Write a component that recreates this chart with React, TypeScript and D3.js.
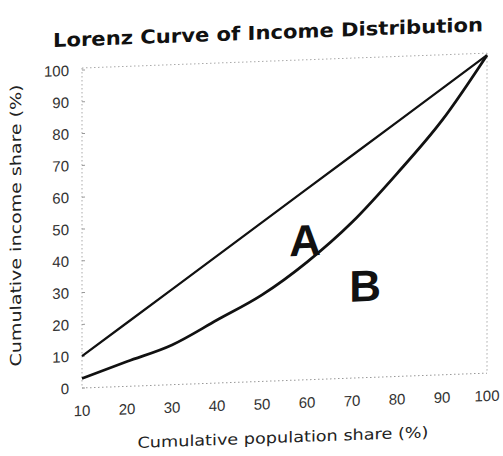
import React from "react";
import * as d3 from "d3";

const populationShare = [10, 20, 30, 40, 50, 60, 70, 80, 90, 100];
const lorenzIncome = [3, 7.8, 12.5, 19.8, 27.2, 37, 49, 63.8, 80, 100];
const equalityIncome = [10, 20, 30, 40, 50, 60, 70, 80, 90, 100];
const xTicks = [10, 20, 30, 40, 50, 60, 70, 80, 90, 100];
const yTicks = [0, 10, 20, 30, 40, 50, 60, 70, 80, 90, 100];
const areaLabels = [
  { text: "A", x: 59.6, y: 44 },
  { text: "B", x: 72.9, y: 29 },
];

const W = 503;
const H = 456;

export default function App() {
  const x = d3.scaleLinear().domain([10, 100]).range([82, 487]);
  const y = d3.scaleLinear().domain([0, 100]).range([388, 70]);

  const line = d3
    .line<[number, number]>()
    .x((d) => x(d[0]))
    .y((d) => y(d[1]));
  const curve = d3
    .line<[number, number]>()
    .x((d) => x(d[0]))
    .y((d) => y(d[1]))
    .curve(d3.curveMonotoneX);

  const lorenzPts: [number, number][] = populationShare.map((p, i) => [p, lorenzIncome[i]]);
  const eqPts: [number, number][] = populationShare.map((p, i) => [p, equalityIncome[i]]);

  const left = x(10);
  const right = x(100);
  const top = y(100) - 2;
  const bottom = y(0);
  const frameStyle = { stroke: "#aaa", strokeWidth: 1, strokeDasharray: "1.5,2.5" };

  return (
    <svg
      width={W}
      height={H}
      style={{ position: "absolute", left: 0, top: 0, background: "#fff" }}
    >
      <rect width={W} height={H} fill="#fff" />
      <g transform="translate(0,3) skewY(-2.1)">
        <text
          x={268}
          y={46}
          textAnchor="middle"
          fontFamily="'DejaVu Sans', 'Liberation Sans', sans-serif"
          fontWeight="bold"
          fontSize={19}
          textLength={430}
          lengthAdjust="spacingAndGlyphs"
          fill="#111"
        >
          Lorenz Curve of Income Distribution
        </text>

        {/* frame */}
        <line x1={left} x2={right} y1={top} y2={top} style={frameStyle} />
        <line x1={left} x2={right} y1={bottom} y2={bottom} style={{ ...frameStyle, stroke: "#999" }} />
        <line x1={left} x2={left} y1={top} y2={bottom} style={frameStyle} />
        <line x1={right} x2={right} y1={top} y2={bottom} style={frameStyle} />

        {/* y ticks */}
        {yTicks.map((t) => (
          <g key={"y" + t}>
            <line x1={left} x2={left + 3} y1={y(t)} y2={y(t)} stroke="#999" strokeWidth={1} />
            <text
              x={69}
              y={y(t)}
              dy="0.36em"
              textAnchor="end"
              fontFamily="'Liberation Sans', Arial, sans-serif"
              fontSize={15}
              fill="#333"
            >
              {t}
            </text>
          </g>
        ))}

        {/* x ticks */}
        {xTicks.map((t) => (
          <text
            key={"x" + t}
            x={x(t)}
            y={416}
            textAnchor="middle"
            fontFamily="'Liberation Sans', Arial, sans-serif"
            fontSize={15}
            fill="#333"
          >
            {t}
          </text>
        ))}

        <text
          x={283}
          y={450}
          textAnchor="middle"
          fontFamily="'DejaVu Sans', 'Liberation Sans', sans-serif"
          fontSize={15}
          textLength={291}
          lengthAdjust="spacingAndGlyphs"
          fill="#222"
        >
          Cumulative population share (%)
        </text>
        <text
          transform={`translate(21,${223}) rotate(-90)`}
          textAnchor="middle"
          fontFamily="'DejaVu Sans', 'Liberation Sans', sans-serif"
          fontSize={15}
          textLength={282}
          lengthAdjust="spacingAndGlyphs"
          fill="#222"
        >
          Cumulative income share (%)
        </text>

        <path d={line(eqPts) || ""} fill="none" stroke="#111" strokeWidth={2.3} />
        <path d={curve(lorenzPts) || ""} fill="none" stroke="#111" strokeWidth={2.8} />

        {areaLabels.map((l) => (
          <text
            key={l.text}
            x={x(l.x)}
            y={y(l.y)}
            dy="0.36em"
            textAnchor="middle"
            fontFamily="'Liberation Sans', Arial, sans-serif"
            fontWeight="bold"
            fontSize={44}
            fill="#111"
          >
            {l.text}
          </text>
        ))}
      </g>
    </svg>
  );
}
